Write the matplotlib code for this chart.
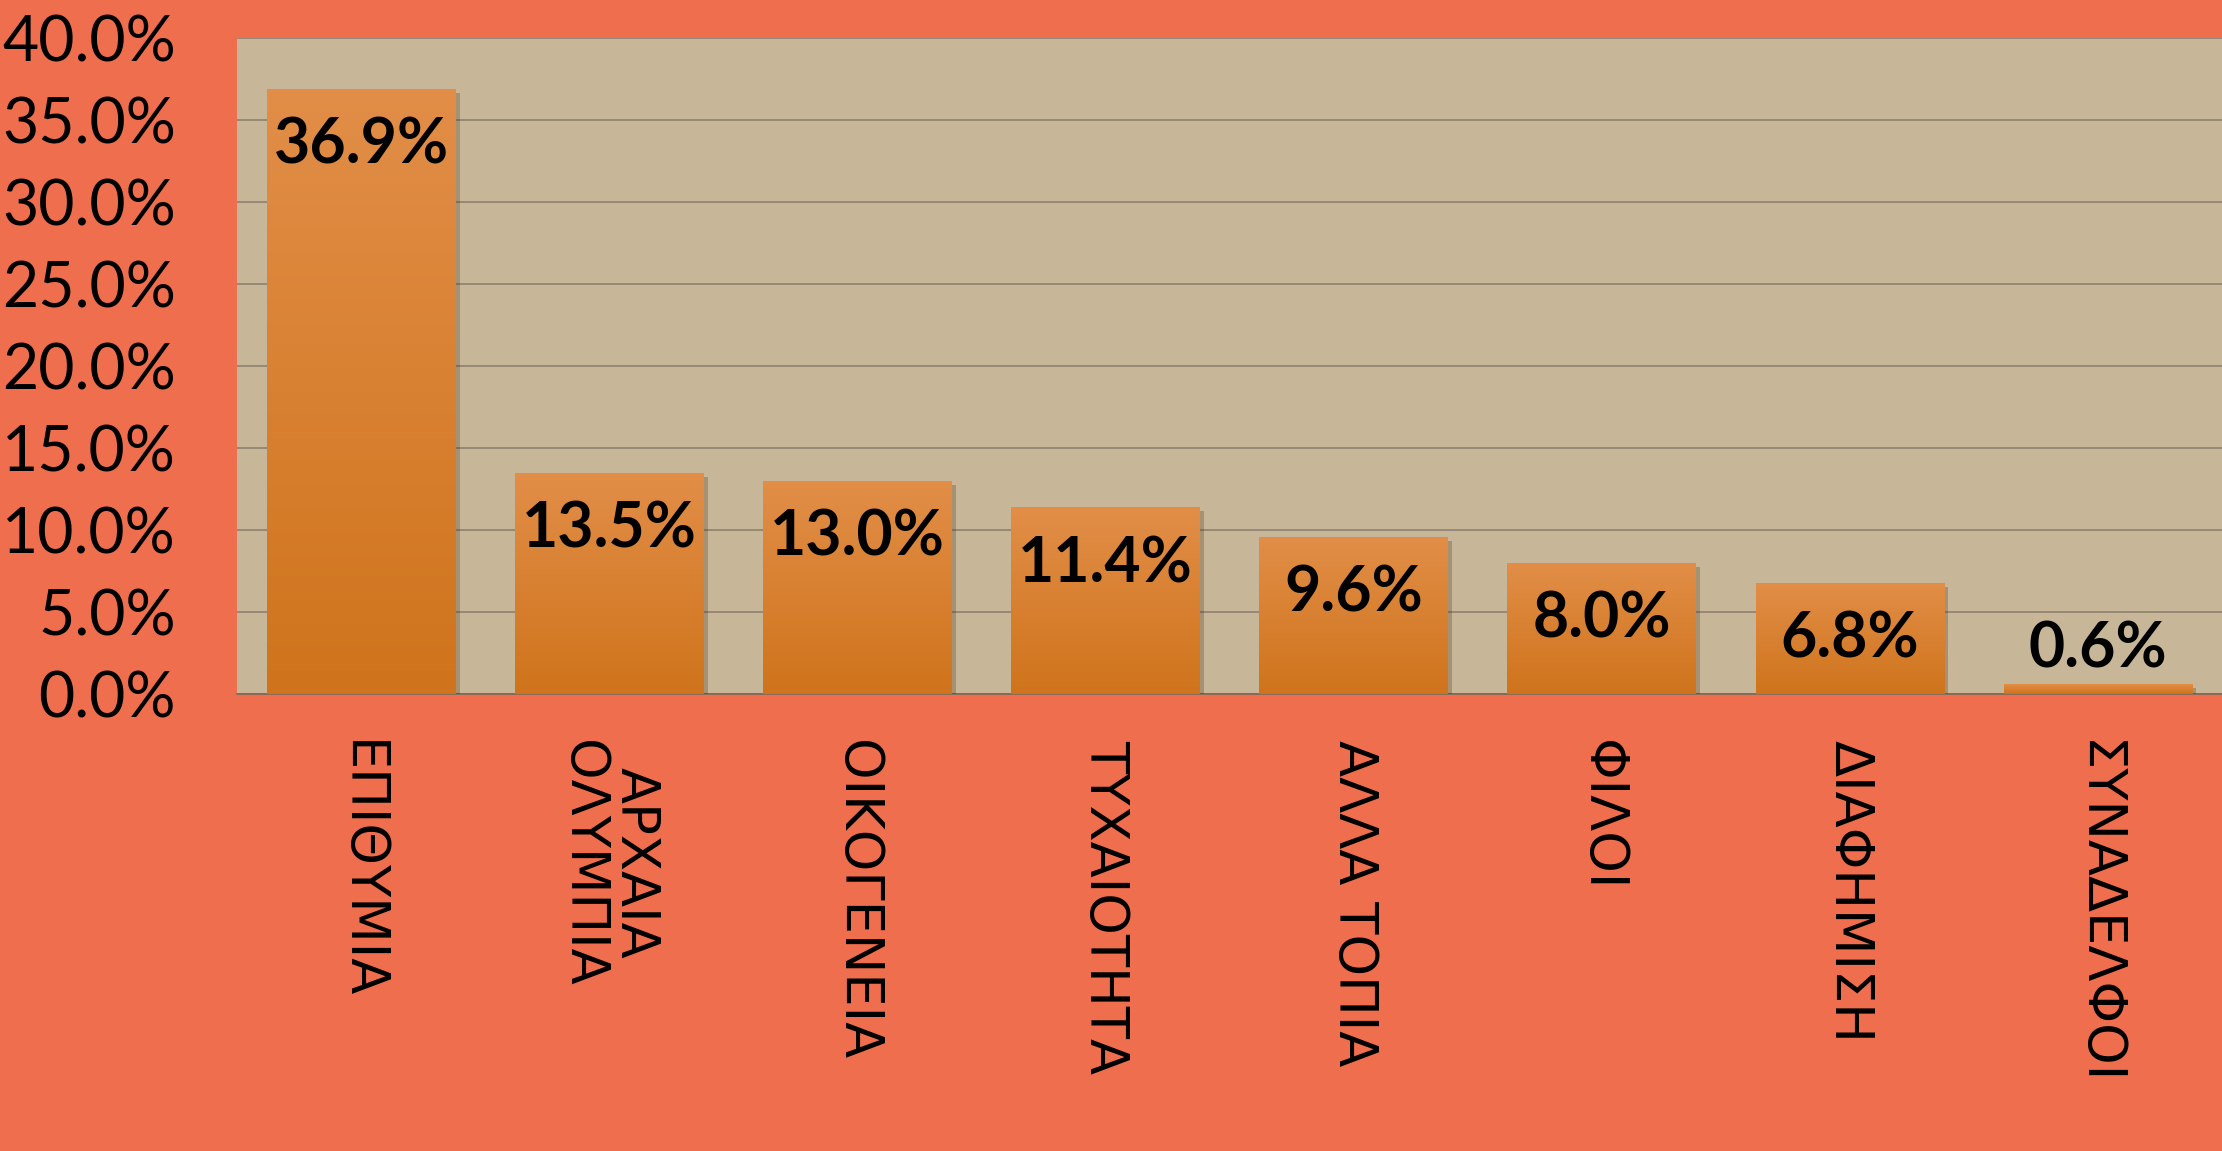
import matplotlib
matplotlib.use("Agg")
import matplotlib.pyplot as plt
import numpy as np
from matplotlib.ticker import FuncFormatter, MultipleLocator
import matplotlib.patheffects as pe

categories = ["ΕΠΙΘΥΜΙΑ", "ΑΡΧΑΙΑ\nΟΛΥΜΠΙΑ", "ΟΙΚΟΓΕΝΕΙΑ", "ΤΥΧΑΙΟΤΗΤΑ",
              "ΑΛΛΑ ΤΟΠΙΑ", "ΦΙΛΟΙ", "ΔΙΑΦΗΜΙΣΗ", "ΣΥΝΑΔΕΛΦΟΙ"]
values = [36.9, 13.5, 13.0, 11.4, 9.6, 8.0, 6.8, 0.6]
value_labels = ["36.9%", "13.5%", "13.0%", "11.4%", "9.6%", "8.0%", "6.8%", "0.6%"]

BG = "#EF6E4E"
PLOT_BG = "#C8B698"
BAR_TOP = np.array([226, 142, 72]) / 255
BAR_BOT = np.array([207, 116, 28]) / 255

plt.rcParams['font.family'] = ['Lato', 'DejaVu Sans']

fig = plt.figure(figsize=(22.22, 11.51), dpi=100, facecolor=BG)
ax = fig.add_axes([0.1067, 0.397, 0.8933, 0.570])
ax.set_facecolor(PLOT_BG)

x = np.arange(len(categories))
bars = ax.bar(x, values, width=0.76, color=BAR_BOT, zorder=3,
              path_effects=[pe.SimplePatchShadow(offset=(3, -3), alpha=0.25), pe.Normal()])

# gradient fill per bar
grad = np.linspace(0, 1, 256).reshape(-1, 1)
cols = BAR_BOT[None, None, :] * (1 - grad[:, :, None]) + BAR_TOP[None, None, :] * grad[:, :, None]
for b in bars:
    x0, w, h = b.get_x(), b.get_width(), b.get_height()
    im = ax.imshow(cols, extent=(x0, x0 + w, 0, h), origin='lower', aspect='auto', zorder=3.5)
    im.set_clip_path(b)
ax.set_aspect('auto')
ax.set_xlim(-0.5, len(categories) - 0.5)
ax.set_ylim(0, 40)

ax.yaxis.set_major_locator(MultipleLocator(5))
ax.yaxis.set_major_formatter(FuncFormatter(lambda v, p: f"{v:.1f}%"))
ax.grid(axis='y', color='#8C8070', linewidth=1.2, zorder=0)
ax.set_axisbelow(True)
for s in ['top', 'right', 'left']:
    ax.spines[s].set_visible(False)
ax.spines['bottom'].set_color('#7A6A58')
ax.spines['bottom'].set_linewidth(1.2)

ax.tick_params(axis='y', length=0, pad=44, labelsize=45, labelcolor='black')
ax.tick_params(axis='x', length=0, pad=33, labelcolor='black')
ax.set_xticks(x)
ax.set_xticklabels(categories, rotation=270, va='top', ha='center', multialignment='center',
                   linespacing=1.0, fontsize=38, family=['DejaVu Sans'])

for xi, v, lab in zip(x, values, value_labels):
    if v < 3:
        ax.annotate(lab, (xi, v), xytext=(0, 25), textcoords='offset points',
                    ha='center', va='center', fontsize=45, fontweight='bold', zorder=5)
    else:
        ax.annotate(lab, (xi, v), xytext=(0, -41), textcoords='offset points',
                    ha='center', va='center', fontsize=45, fontweight='bold', zorder=5)

fig.savefig("out.png", dpi=100, facecolor=BG)
